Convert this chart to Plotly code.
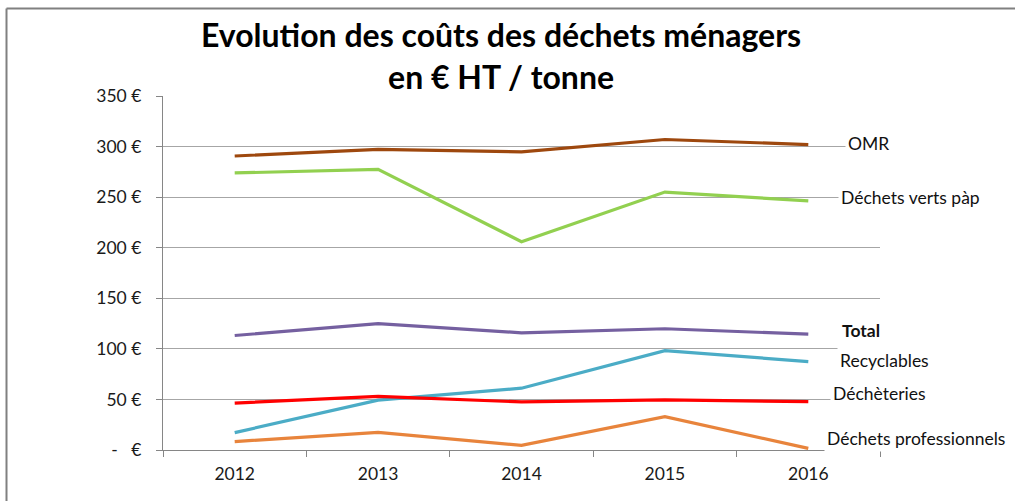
import plotly.graph_objects as go

# Years on the category axis
years = ["2012", "2013", "2014", "2015", "2016"]

# Cost per tonne (€ HT) for each waste stream
omr = [290.7, 297.3, 294.7, 307.0, 302.0]
dechets_verts = [273.9, 277.5, 206.0, 255.0, 246.3]
total = [113.2, 125.0, 115.9, 119.9, 114.5]
recyclables = [17.2, 49.3, 61.1, 98.3, 87.4]
decheteries = [46.4, 53.0, 47.5, 49.5, 47.8]
dechets_pro = [8.3, 17.5, 4.6, 33.0, 1.6]

# y tick values and their labels
y_ticks = [0, 50, 100, 150, 200, 250, 300, 350]
y_tick_text = ["-   €", "50 €", "100 €", "150 €", "200 €", "250 €", "300 €", "350 €"]

W, H = 1015, 501
L, R, T, B = 163, 880, 96, 450
FONT = "Lato"
FS = 17.5

# name, values, colour, label x shift (px), label y shift (px), bold
series = [
    ("OMR", omr, "#9E480E", 37, 1, False),
    ("Déchets verts pàp", dechets_verts, "#92D050", 30, 3, False),
    ("Total", total, "#7560A0", 31, 4, True),
    ("Recyclables", recyclables, "#4BACC6", 29, 1, False),
    ("Déchèteries", decheteries, "#FF0000", 22, 8, False),
    ("Déchets professionnels", dechets_pro, "#E8843C", 16, 10, False),
]

# paper x of the last category centre (category axis spans -0.5 .. n-0.5)
x_last = (len(years) - 0.5) / len(years)

fig = go.Figure()
annotations = []
for name, vals, color, xs, ys, bold in series:
    fig.add_trace(go.Scatter(
        x=years, y=vals, mode="lines", name=name,
        line=dict(color=color, width=3.2),
        showlegend=False, hoverinfo="x+y+name",
    ))
    annotations.append(dict(
        x=x_last, y=vals[-1], xref="paper", yref="y",
        text=f"<b>{name}</b>" if bold else name,
        showarrow=False, xanchor="left", yanchor="middle",
        xshift=xs, yshift=ys,
        font=dict(family=FONT, size=FS, color="#111111"),
        bgcolor="white", borderpad=2,
    ))

# chart title
annotations.append(dict(
    x=(501 - L) / (R - L), y=1 + (T - 55.5) / (B - T),
    xref="paper", yref="paper",
    text="<b>Evolution des coûts des déchets ménagers<br>en € HT / tonne</b>",
    showarrow=False, xanchor="center", yanchor="middle",
    font=dict(family=FONT, size=32, color="#000000"),
))

# outer frame (top and left edges)
shapes = [
    dict(type="line", xref="paper", yref="paper",
         x0=(6.5 - L) / (R - L), x1=(W + 5 - L) / (R - L),
         y0=1 + (T - 8.5) / (B - T), y1=1 + (T - 8.5) / (B - T),
         line=dict(color="#808080", width=2)),
    dict(type="line", xref="paper", yref="paper",
         x0=(6.5 - L) / (R - L), x1=(6.5 - L) / (R - L),
         y0=1 + (T - 8.5) / (B - T), y1=-(H + 5 - B) / (B - T),
         line=dict(color="#808080", width=2)),
]

fig.update_layout(
    width=W, height=H,
    margin=dict(l=L, r=W - R, t=T, b=H - B, pad=0),
    paper_bgcolor="white", plot_bgcolor="white",
    font=dict(family=FONT, size=FS, color="#1a1a1a"),
    annotations=annotations, shapes=shapes,
)
fig.update_xaxes(
    type="category", range=[-0.5, 4.5],
    showline=True, linecolor="#868686", linewidth=1.3,
    ticks="outside", ticklen=6, tickcolor="#868686", tickson="boundaries",
    showgrid=False, zeroline=False, ticklabelstandoff=8,
    tickfont=dict(family=FONT, size=FS, color="#1a1a1a"),
)
fig.update_yaxes(
    range=[0, 350], tickvals=y_ticks, ticktext=y_tick_text,
    showline=True, linecolor="#868686", linewidth=1.3,
    ticks="outside", ticklen=6, tickcolor="#868686",
    showgrid=True, gridcolor="#A6A6A6", gridwidth=1.2,
    zeroline=False, ticklabelstandoff=11,
    tickfont=dict(family=FONT, size=FS, color="#1a1a1a"),
)

fig.write_html("out.html")
